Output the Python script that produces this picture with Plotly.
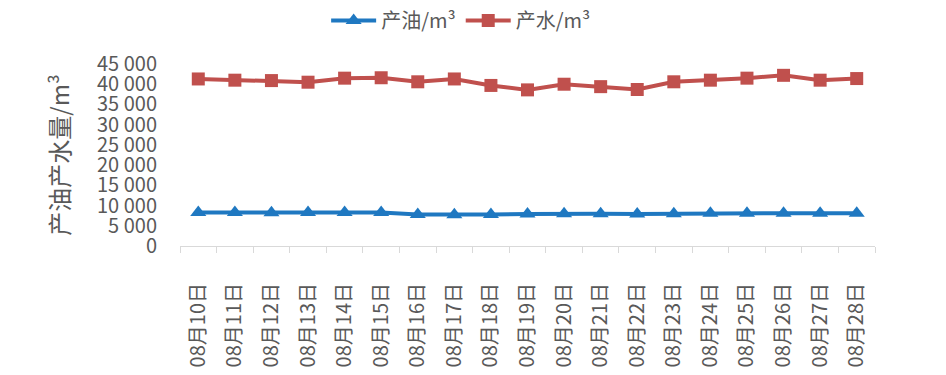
import plotly.graph_objects as go

dates = ["08月10日", "08月11日", "08月12日", "08月13日", "08月14日", "08月15日", "08月16日",
         "08月17日", "08月18日", "08月19日", "08月20日", "08月21日", "08月22日", "08月23日",
         "08月24日", "08月25日", "08月26日", "08月27日", "08月28日"]
oil = [8300, 8300, 8200, 8300, 8300, 8300, 7800, 7700, 7800, 7900, 8000, 8000, 7900, 8000,
       8100, 8100, 8100, 8100, 8100]
water = [41300, 41000, 40900, 40500, 41500, 41600, 40600, 41300, 39700, 38600, 40000, 39400,
         38700, 40600, 41000, 41500, 42200, 41000, 41400]
ytick_vals = [0, 5000, 10000, 15000, 20000, 25000, 30000, 35000, 40000, 45000]
ytick_text = ["0", "5 000", "10 000", "15 000", "20 000", "25 000", "30 000", "35 000", "40 000", "45 000"]

font_family = "Noto Sans CJK SC, Noto Sans, sans-serif"

fig = go.Figure()
fig.add_trace(go.Scatter(x=dates, y=oil, name="产油/m³", mode="lines+markers",
                         line=dict(color="#1F78C1", width=4),
                         marker=dict(symbol="triangle-up", size=14, color="#1F78C1")))
fig.add_trace(go.Scatter(x=dates, y=water, name="产水/m³", mode="lines+markers",
                         line=dict(color="#C0504D", width=4),
                         marker=dict(symbol="square", size=13, color="#C0504D")))

fig.update_layout(
    width=946, height=375,
    margin=dict(l=172, r=79, t=56, b=137),
    paper_bgcolor="white", plot_bgcolor="white",
    font=dict(family=font_family, color="#595959", size=20),
    showlegend=True,
    legend=dict(orientation="h", x=0.479, xanchor="center", xref="container",
                y=0.967, yanchor="middle", yref="container", itemwidth=45,
                font=dict(size=20, color="#595959")),
    xaxis=dict(type="category", range=[-0.5, len(dates) - 0.5],
               tickangle=-90, ticks="outside", tickson="boundaries",
               ticklen=6, tickcolor="#D9D9D9", showline=True, linecolor="#D9D9D9",
               linewidth=1, showgrid=False, automargin=False, ticklabelstandoff=28,
               tickfont=dict(size=20, color="#595959")),
    yaxis=dict(range=[0, 45000], tickvals=ytick_vals, ticktext=ytick_text,
               showgrid=False, showline=False, zeroline=False, ticks="",
               automargin=False, ticklabelstandoff=22,
               tickfont=dict(size=20, color="#595959"),
               title=dict(text="产油产水量/m³", font=dict(size=24, color="#595959"), standoff=20)),
)

fig.write_html("out.html")
